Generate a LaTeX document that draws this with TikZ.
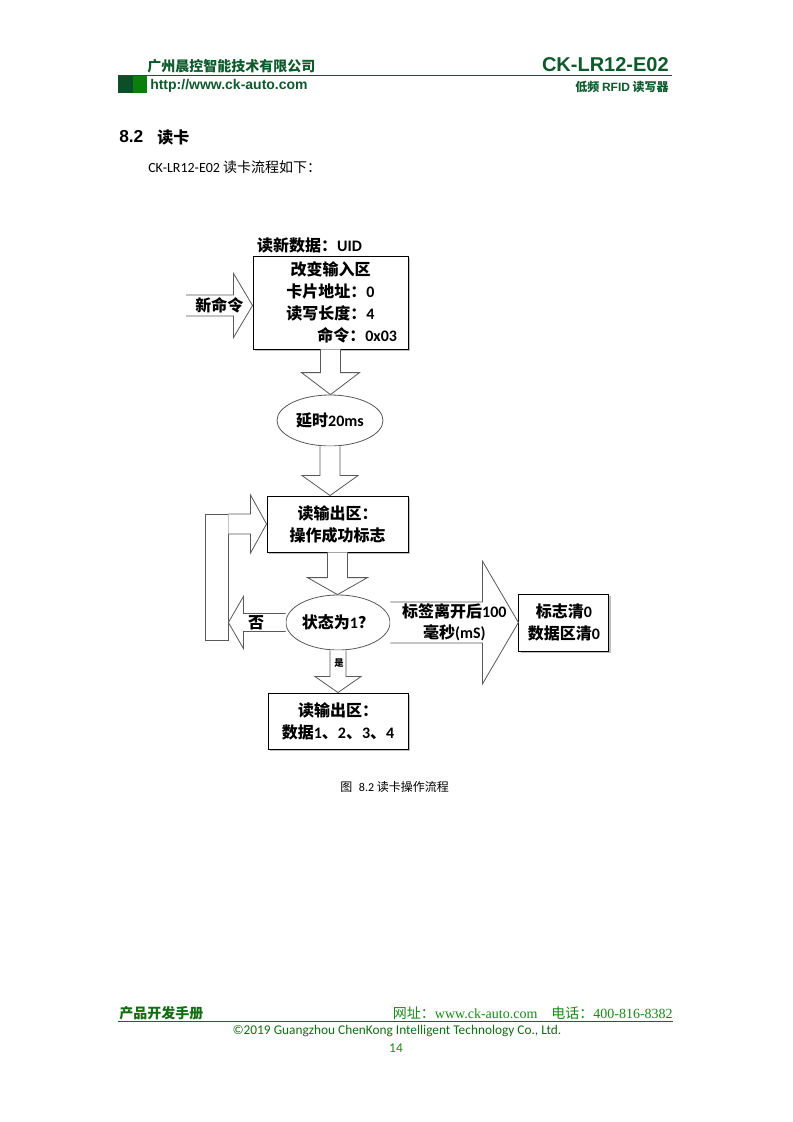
\documentclass[tikz,border=0pt]{standalone}
\usepackage{fontspec}
\setmainfont{Carlito}
\newfontfamily\cjk{Noto Sans CJK SC}
\newfontfamily\arialf{Liberation Sans}
\newfontfamily\tnr{Liberation Serif}
\usetikzlibrary{positioning,shapes.geometric,calc,shadows}

\definecolor{hdrgreen}{HTML}{0E5A2C}
\definecolor{sqdark}{HTML}{0B4F28}
\definecolor{sqlight}{HTML}{0A7F0A}
\definecolor{ftgreen}{HTML}{178A17}

\newcommand{\pxu}{0.75pt}
\newcommand{\zh}[1]{{\cjk #1}}

% block arrow pointing down, x from #1, tip at y of #2
\newcommand{\downblock}[5]{%
  \draw[blockarrow] let \p1=(#1), \p2=(#2) in
    ({\x1-#3*\pxu},\y1) -- ({\x1-#3*\pxu},{\y2+#5*\pxu}) -- ({\x1-#4*\pxu},{\y2+#5*\pxu})
    -- (\x1,\y2) -- ({\x1+#4*\pxu},{\y2+#5*\pxu}) -- ({\x1+#3*\pxu},{\y2+#5*\pxu})
    -- ({\x1+#3*\pxu},\y1);}
% block arrow sideways, tail x from #1, tip at #2 (#5<0 points left)
\newcommand{\sideblock}[5]{%
  \draw[blockarrow] let \p1=(#1), \p2=(#2) in
    (\x1,{\y2+#3*\pxu}) -- ({\x2-(#5)*\pxu},{\y2+#3*\pxu}) -- ({\x2-(#5)*\pxu},{\y2+#4*\pxu})
    -- (\x2,\y2) -- ({\x2-(#5)*\pxu},{\y2-#4*\pxu}) -- ({\x2-(#5)*\pxu},{\y2-#3*\pxu})
    -- (\x1,{\y2-#3*\pxu});}

\begin{document}
\begin{tikzpicture}[x=0.75pt,y=-0.75pt,
    box/.style={draw=black, line width=0.7pt, fill=white, align=center,
      drop shadow={shadow xshift=1.5pt, shadow yshift=-1.5pt, opacity=.25, fill=black},
      font=\bfseries\fontsize{12}{16.5}\selectfont},
    oval/.style={ellipse, draw=black!65, line width=0.6pt, fill=white, inner sep=0pt,
      font=\bfseries\fontsize{12}{16.5}\selectfont},
    blockarrow/.style={draw=black!65, fill=white, line width=0.6pt, line join=miter},
    lbl/.style={align=center, inner sep=0pt, font=\bfseries\fontsize{12}{16}\selectfont}]
  \useasboundingbox[fill=white] (0,0) rectangle (793,1122);

  % page header
  \node[anchor=west, inner sep=0pt, text=hdrgreen, font=\cjk\bfseries\fontsize{10.5}{12}\selectfont]
    (company) at (147,66) {广州晨控智能技术有限公司};
  \node[anchor=east, inner sep=0pt, text=hdrgreen, font=\arialf\bfseries\fontsize{15}{17}\selectfont]
    (model) at (669,65) {CK-LR12-E02};
  \draw[hdrgreen, line width=1.2pt] (118,75.5) -- (672,75.5);
  \fill[sqdark] (118,76) rectangle (133,93);
  \fill[sqlight] (133,76) rectangle (147,93);
  \node[anchor=west, inner sep=0pt, text=hdrgreen, font=\arialf\bfseries\fontsize{10.5}{12}\selectfont]
    (site) at (150,86) {http://www.ck-auto.com};
  \node[anchor=east, inner sep=0pt, text=hdrgreen, font=\bfseries\fontsize{9}{10}\selectfont]
    (product) at (669,87) {\zh{低频} {\arialf RFID} \zh{读写器}};

  % section heading
  \node[anchor=west, inner sep=0pt, font=\arialf\bfseries\fontsize{13}{15}\selectfont]
    (secno) at (119,137) {8.2};
  \node[anchor=west, inner sep=0pt, font=\cjk\bfseries\fontsize{12}{14}\selectfont]
    (sectitle) at (157,137) {读卡};
  \node[anchor=west, inner sep=0pt, font=\fontsize{10.5}{12}\selectfont]
    (intro) at (148,167) {CK-LR12-E02 \zh{读卡流程如下：}};

  % flow chart
  \node[box, minimum width=155*\pxu, minimum height=93*\pxu] (input) at (330.5,302.5)
    {\zh{改变输入区}\\\zh{卡片地址：}0\\\zh{读写长度：}4\\\hspace*{40pt}\zh{命令：}0x03};
  \node[lbl] (uid) at (309.5,245) {\zh{读新数据：}UID};
  \node[oval, minimum width=106*\pxu, minimum height=51*\pxu] (delay) at (330,420.5) {\zh{延时}20ms};
  \node[box, minimum width=141*\pxu, minimum height=56*\pxu] (flag) at (337.5,524)
    {\zh{读输出区：}\\\zh{操作成功标志}};
  \node[oval, minimum width=104*\pxu, minimum height=55*\pxu] (state) at (338,622.5) {\zh{状态为}1\zh{？}};
  \node[box, minimum width=90*\pxu, minimum height=57*\pxu, right=96pt of state] (clear)
    {\zh{标志清}0\\\zh{数据区清}0};
  \node[box, minimum width=140*\pxu, minimum height=56*\pxu] (data) at (338,721)
    {\zh{读输出区：}\\\zh{数据}1\zh{、}2\zh{、}3\zh{、}4};
  \node[blockarrow, minimum width=23*\pxu, minimum height=126*\pxu, inner sep=0pt] (loopbar) at (216.5,577) {};
  \coordinate (cmdtail) at (186,305.5);

  \sideblock{cmdtail}{input.west |- cmdtail}{10.5}{32}{19}
  \downblock{input.south}{delay.north}{10}{29}{22}
  \downblock{delay.south}{flag.north}{10}{28}{20}
  \downblock{flag.south}{state.north}{10}{30}{17}
  \downblock{state.south}{data.north}{8}{23}{16}
  \sideblock{state.west}{loopbar.east |- state.west}{9}{26}{-15}
  \sideblock{loopbar.north east}{flag.west}{10}{29}{16}
  \sideblock{state.east}{clear.west}{20.5}{61.5}{36}

  \node[lbl] (newcmd) at ($(cmdtail)!0.5!(input.west |- cmdtail)$) {\zh{新命令}};
  \node[lbl] (no) at (256,623) {\zh{否}};
  \node[lbl, font=\cjk\bfseries\fontsize{7}{8}\selectfont] (yes) at (339,663) {是};
  \node[lbl, font=\bfseries\fontsize{12}{15.5}\selectfont] (leave) at ($(state.east)!0.5!(clear.west)$)
    {\zh{标签离开后}100\\\zh{毫秒}(mS)};

  \node[anchor=west, inner sep=0pt, font=\fontsize{9}{11}\selectfont]
    (caption) at (340,787) {\zh{图}\hspace{5pt}8.2 \zh{读卡操作流程}};

  % page footer
  \node[anchor=west, inner sep=0pt, text=ftgreen!80!black, font=\cjk\bfseries\fontsize{10.5}{12}\selectfont]
    (manual) at (119,1013) {产品开发手册};
  \node[anchor=east, inner sep=0pt, text=ftgreen, font=\fontsize{10.5}{12}\selectfont]
    (contact) at (673,1013) {\zh{网址：}{\tnr www.ck-auto.com}\hspace{1em}\zh{电话：}{\tnr 400-816-8382}};
  \draw[ftgreen!80!black, line width=0.9pt] (118,1021.5) -- (673,1021.5);
  \node[inner sep=0pt, text=ftgreen!80!black, font=\fontsize{10}{12}\selectfont]
    (copyright) at (397,1031) {©2019 Guangzhou ChenKong Intelligent Technology Co., Ltd.};
  \node[inner sep=0pt, text=ftgreen, font=\fontsize{10}{12}\selectfont] (page) at (396,1048) {14};
\end{tikzpicture}
\end{document}
